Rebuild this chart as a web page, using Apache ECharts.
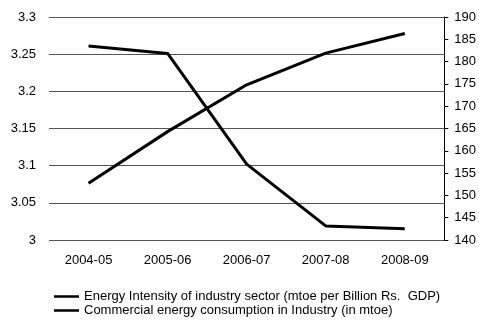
<!DOCTYPE html>
<html>
<head>
<meta charset="utf-8">
<script src="https://cdn.jsdelivr.net/npm/echarts@6/dist/echarts.min.js"></script>
<style>
  html, body { margin: 0; padding: 0; background: #fff; }
  #chart { width: 479px; height: 326px; }
</style>
</head>
<body>
<div id="chart"></div>
<script>
// data
const years = ['2004-05', '2005-06', '2006-07', '2007-08', '2008-09'];
const intensity = [3.261, 3.251, 3.102, 3.019, 3.015];      // left axis
const consumption = [152.7, 164.3, 174.8, 181.9, 186.3];    // right axis
const nameIntensity = 'Energy Intensity of industry sector (mtoe per Billion Rs.  GDP)';
const nameConsumption = 'Commercial energy consumption in Industry (in mtoe)';

const font = 'Liberation Sans, Arial, sans-serif';
const fs = 13;
const chart = echarts.init(document.getElementById('chart'));

chart.setOption({
  backgroundColor: '#fff',
  animation: false,
  textStyle: { fontFamily: font },
  grid: { left: 49, right: 33, top: 17, bottom: 86 },
  legend: {
    orient: 'vertical', left: 49, top: 285, itemGap: 1,
    icon: 'rect', itemWidth: 25, itemHeight: 2.5,
    textStyle: { color: '#000', fontSize: fs, fontFamily: font },
    data: [nameIntensity, nameConsumption]
  },
  xAxis: {
    type: 'category', data: years, boundaryGap: true,
    axisLine: { show: false }, axisTick: { show: false },
    axisLabel: { color: '#000', fontSize: fs, margin: 14, fontFamily: font }
  },
  yAxis: [
    {
      type: 'value', min: 3, max: 3.3, interval: 0.05,
      axisLine: { show: false }, axisTick: { show: false },
      axisLabel: { color: '#000', fontSize: fs, margin: 13, fontFamily: font },
      splitLine: { lineStyle: { color: '#555', width: 1 } }
    },
    {
      type: 'value', min: 140, max: 190, interval: 5, position: 'right',
      axisLine: { show: true, lineStyle: { color: '#000', width: 1 } },
      axisTick: { show: true, length: 4, lineStyle: { color: '#000' } },
      axisLabel: { color: '#000', fontSize: fs, margin: 10, fontFamily: font },
      splitLine: { show: false }
    }
  ],
  series: [
    { name: nameIntensity, type: 'line', yAxisIndex: 0, data: intensity, symbol: 'none',
      itemStyle: { color: '#000' }, lineStyle: { color: '#000', width: 3 } },
    { name: nameConsumption, type: 'line', yAxisIndex: 1, data: consumption, symbol: 'none',
      itemStyle: { color: '#000' }, lineStyle: { color: '#000', width: 3 } }
  ]
});
</script>
</body>
</html>
